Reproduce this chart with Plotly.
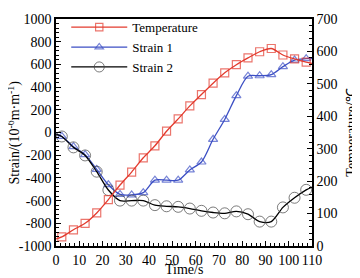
import plotly.graph_objects as go

time = [0, 2.5, 7.5, 12.5, 17.5, 22.5, 27.5, 32.5, 37.5, 42.5, 47.5, 52.5,
        57.5, 62.5, 67.5, 72.5, 77.5, 82.5, 87.5, 92.5, 97.5, 102.5, 107.5, 110]
temperature = [22, 28, 50, 70, 102, 143, 188, 228, 272, 309, 354, 392,
               432, 467, 502, 534, 559, 580, 599, 609, 589, 577, 567, 563]
strain1 = [-15, -35, -125, -195, -325, -460, -545, -550, -530, -420, -420, -420,
           -330, -260, -60, 115, 325, 496, 500, 510, 580, 638, 650, 652]
strain2 = [-15, -35, -131, -202, -345, -507, -600, -600, -600, -640, -650, -655,
           -670, -690, -705, -712, -695, -720, -785, -785, -660, -575, -505, -480]

strain_ticks = [-1000, -800, -600, -400, -200, 0, 200, 400, 600, 800, 1000]
strain_labels = ["-1000", "-800", "-600", "-400", "-200", "0", "200", "400", "600", "800", "1000"]

n = len(time)
msize = [0] + [8] * (n - 2) + [0]

FONT = "Liberation Serif"
red = "#e33b2e"
blue = "#3c4fc4"

fig = go.Figure()
fig.add_trace(go.Scatter(
    x=time, y=temperature, name="Temperature", yaxis="y2",
    mode="lines+markers", line=dict(color=red, width=1.3, shape="spline", smoothing=0.8),
    marker=dict(symbol="square-open", size=msize, color=red, line=dict(width=1.2))))
fig.add_trace(go.Scatter(
    x=time, y=strain1, name="Strain 1",
    mode="lines+markers", line=dict(color=blue, width=1.3, shape="spline", smoothing=0.8),
    marker=dict(symbol="triangle-up-open", size=msize, color=blue, line=dict(width=1.2))))
fig.add_trace(go.Scatter(
    x=time, y=strain2, name="Strain 2",
    mode="lines+markers", line=dict(color="black", width=1.3, shape="spline", smoothing=0.8),
    marker=dict(symbol="circle-open", size=[s + 3 if s else 0 for s in msize], color="#444", line=dict(width=1))))

axis_common = dict(showline=True, linecolor="black", linewidth=1.5, ticks="inside",
                   ticklen=5, tickcolor="black", showgrid=False, zeroline=False,
                   automargin=False,
                   tickfont=dict(family=FONT, size=14, color="black"))

fig.update_layout(
    width=352, height=270,
    margin=dict(l=48, r=48, t=4, b=32),
    paper_bgcolor="white", plot_bgcolor="white",
    font=dict(family=FONT, size=14, color="black"),
    showlegend=True,
    legend=dict(x=0.04, y=1.03, xanchor="left", yanchor="top",
                bgcolor="rgba(0,0,0,0)", font=dict(family=FONT, size=13),
                tracegroupgap=0, itemwidth=56),
    xaxis=dict(range=[0, 110], dtick=10, mirror=True,
               minor=dict(ticks="inside", dtick=2, ticklen=3, tickcolor="black"),
               **axis_common),
    yaxis=dict(range=[-1000, 1000], tickvals=strain_ticks, ticktext=strain_labels,
               minor=dict(ticks="inside", dtick=40, ticklen=3, tickcolor="black"),
               **axis_common),
    yaxis2=dict(range=[0, 700], dtick=100, overlaying="y", side="right",
                minor=dict(ticks="inside", dtick=20, ticklen=3, tickcolor="black"),
                **axis_common),
    annotations=[
        dict(text="Time/s", xref="paper", yref="paper", x=0.5, y=-0.103,
             showarrow=False, xanchor="center", yanchor="middle",
             font=dict(family=FONT, size=14)),
        dict(text="Strain/(10<sup>-6</sup>m·m<sup>-1</sup>)", xref="paper", yref="paper",
             x=-0.164, y=0.5, textangle=-90, showarrow=False,
             xanchor="center", yanchor="middle", font=dict(family=FONT, size=14)),
        dict(text="Temperature/℃", xref="paper", yref="paper",
             x=1.153, y=0.5, textangle=-90, showarrow=False,
             xanchor="center", yanchor="middle", font=dict(family=FONT, size=14)),
    ],
)

fig.write_html("out.html")
